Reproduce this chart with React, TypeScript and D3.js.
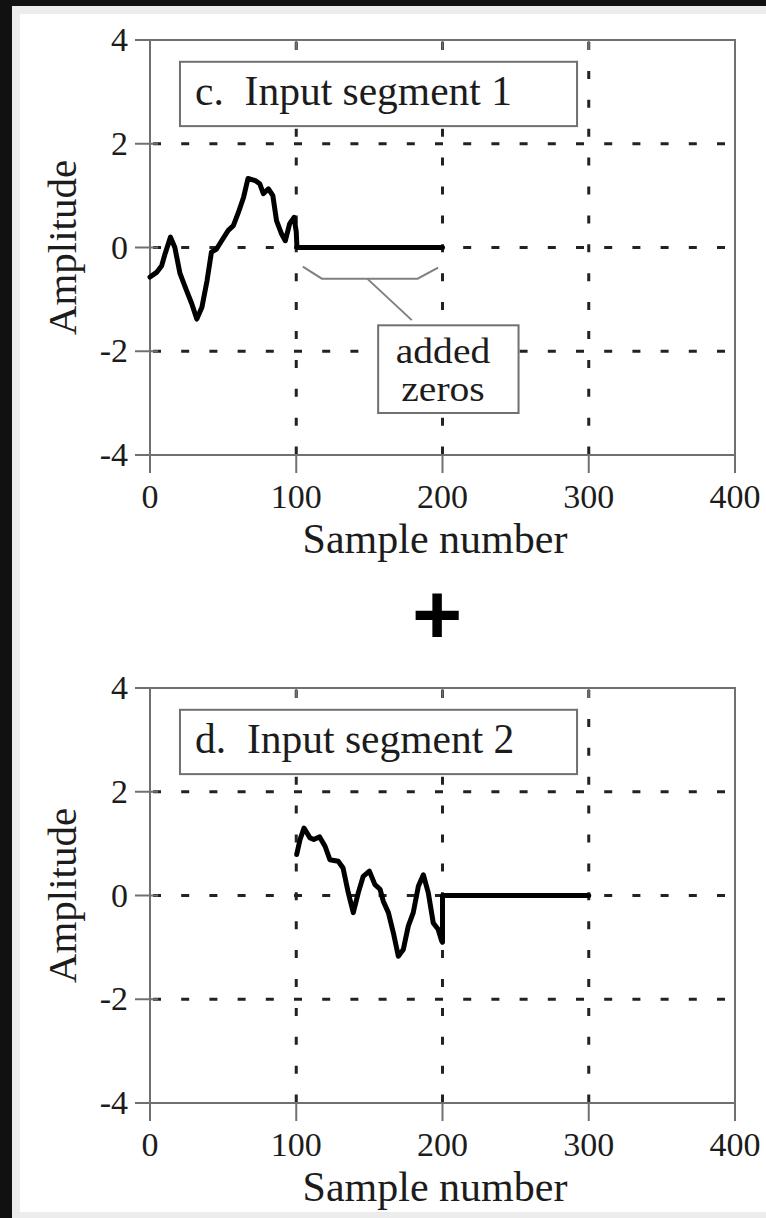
import React from "react";
import { scaleLinear, line, curveLinear } from "d3";

// axis ticks
const xTicks = [0, 100, 200, 300, 400];
const yTicks = [-4, -2, 0, 2, 4];
const xGrid = [100, 200, 300];
const yGrid = [-2, 0, 2];

// segment 1 (samples 0..100)
const seg1Samples = [0, 4.5, 8, 10, 14, 17, 20.5, 25, 28.5, 32, 35.5, 39, 42, 45.5, 49, 53.5, 57, 60.5, 64, 67, 72, 75, 77.5, 81, 84, 86.5, 90, 92.5, 95.5, 98.5, 100, 100.5];
const seg1Values = [-0.57, -0.48, -0.35, -0.15, 0.2, 0.0, -0.5, -0.83, -1.08, -1.38, -1.15, -0.64, -0.09, -0.03, 0.13, 0.33, 0.42, 0.68, 0.97, 1.33, 1.29, 1.23, 1.04, 1.13, 1.0, 0.52, 0.26, 0.13, 0.46, 0.58, 0.3, 0];
const pad1Samples = [100.5, 200];

// segment 2 (samples 100..200)
const seg2Samples = [100.3, 102.6, 105.3, 109.4, 112, 116, 119.7, 123, 128.7, 132, 135.6, 139, 142.4, 145.8, 150, 153.8, 157.3, 159.5, 163, 166.4, 169.8, 173.2, 176.6, 180, 183.5, 186.9, 190.3, 193.7, 197, 199.5, 200];
const seg2Values = [0.79, 1.08, 1.3, 1.11, 1.08, 1.13, 0.95, 0.69, 0.66, 0.53, 0.05, -0.33, 0.05, 0.37, 0.47, 0.21, 0.12, -0.11, -0.33, -0.72, -1.17, -1.04, -0.59, -0.33, 0.18, 0.4, 0.05, -0.53, -0.65, -0.88, -0.9];
const pad2Samples = [200, 300];

const titles = ["c.  Input segment 1", "d.  Input segment 2"];
const noteLines = ["added", "zeros"];

const serif = "'Liberation Serif', 'Times New Roman', serif";
const axisColor = "#707070";
const ink = "#1c1c1c";

type P = [number, number];

function Panel({ top, title, points, note }: { top: number; title: string; points: P[]; note: boolean }) {
  const x = scaleLinear().domain([0, 400]).range([150, 735]);
  const y = scaleLinear().domain([-4, 4]).range([top + 415, top]);
  const path = line<P>().x((d) => x(d[0])).y((d) => y(d[1])).curve(curveLinear);
  const x0 = x(0), x1 = x(400), yT = y(4), yB = y(-4);

  return (
    <g>
      {/* grid */}
      {yGrid.map((v) => (
        <line key={"gy" + v} x1={x0 + 3} x2={x1} y1={y(v)} y2={y(v)} stroke="#222" strokeWidth={3} strokeDasharray="8 20.2" />
      ))}
      {xGrid.map((v) => (
        <line key={"gx" + v} x1={x(v)} x2={x(v)} y1={yT + 2} y2={yB} stroke="#222" strokeWidth={3} strokeDasharray="8 20.9" />
      ))}
      {/* frame */}
      <rect x={x0} y={yT} width={x1 - x0} height={yB - yT} fill="none" stroke={axisColor} strokeWidth={2} />
      {/* x ticks */}
      {xTicks.map((t) => (
        <g key={"xt" + t}>
          <line x1={x(t)} x2={x(t)} y1={yB} y2={yB + 18} stroke={axisColor} strokeWidth={2} />
          {t > 0 && t < 400 && <line x1={x(t)} x2={x(t)} y1={yT} y2={yT + 10} stroke={axisColor} strokeWidth={2} />}
          <text x={x(t)} y={yB + 53} textAnchor="middle" fontFamily={serif} fontSize={34} fill={ink}>{t}</text>
        </g>
      ))}
      {/* y ticks */}
      {yTicks.map((t) => (
        <g key={"yt" + t}>
          <line x1={x0 - 15} x2={t === 4 || t === -4 ? x0 : x0 + 8} y1={y(t)} y2={y(t)} stroke={axisColor} strokeWidth={2} />
          <text x={x0 - 22} y={y(t) + 11} textAnchor="end" fontFamily={serif} fontSize={34} fill={ink}>{t}</text>
        </g>
      ))}
      <text transform={`translate(76,${y(0)}) rotate(-90)`} textAnchor="middle" fontFamily={serif} fontSize={41} fill={ink}>Amplitude</text>
      <text x={435} y={yB + 98} textAnchor="middle" fontFamily={serif} fontSize={42} fill={ink}>Sample number</text>

      {/* signal */}
      <path d={path(points) || ""} fill="none" stroke="#000" strokeWidth={5} strokeLinejoin="round" strokeLinecap="round" />

      {/* title box */}
      <rect x={x(20.5)} y={y(3.58)} width={x(292) - x(20.5)} height={y(2.34) - y(3.58)} fill="#fff" stroke={axisColor} strokeWidth={2} />
      <text x={x(30.8)} y={yT + 65} fontFamily={serif} fontSize={41.5} fill={ink} xmlSpace="preserve" style={{ whiteSpace: "pre" }}>{title}</text>

      {note && (
        <g>
          <path
            d={`M${x(104.5)},${y(-0.37)} L${x(117.5)},${y(-0.6)} L${x(183)},${y(-0.6)} L${x(197)},${y(-0.39)}`}
            fill="none" stroke="#808080" strokeWidth={2}
          />
          <line x1={x(148.5)} y1={y(-0.6)} x2={x(179)} y2={y(-1.4)} stroke="#808080" strokeWidth={2} />
          <rect x={x(156)} y={y(-1.5)} width={x(252) - x(156)} height={y(-3.19) - y(-1.5)} fill="#fff" stroke={axisColor} strokeWidth={2} />
          <g transform={`translate(443,${y(-2.3) - 4}) scale(1.13,1)`}>
            {noteLines.map((s, i) => (
              <text key={s} x={0} y={i * 38.5} textAnchor="middle" fontFamily={serif} fontSize={35} fill={ink}>{s}</text>
            ))}
          </g>
        </g>
      )}
    </g>
  );
}

export default function App() {
  const pts1: P[] = seg1Samples.map((n, i) => [n, seg1Values[i]] as P).concat(pad1Samples.map((n) => [n, 0] as P));
  const pts2: P[] = seg2Samples.map((n, i) => [n, seg2Values[i]] as P).concat(pad2Samples.map((n) => [n, 0] as P));
  return (
    <>
      <style>{`body{margin:0;overflow:hidden}`}</style>
      <svg width={766} height={1218} style={{ display: "block" }}>
        <rect x={0} y={0} width={766} height={1218} fill="#111" />
        <rect x={12} y={6} width={754} height={1212} fill="#ececec" />
        <rect x={20} y={14} width={746} height={1198} fill="#fff" />
        <Panel top={40} title={titles[0]} points={pts1} note={true} />
        <text x={437} y={644} textAnchor="middle" fontFamily="'Liberation Sans', Arial, sans-serif" fontWeight="bold" fontSize={86} fill="#000">+</text>
        <Panel top={688} title={titles[1]} points={pts2} note={false} />
      </svg>
    </>
  );
}
